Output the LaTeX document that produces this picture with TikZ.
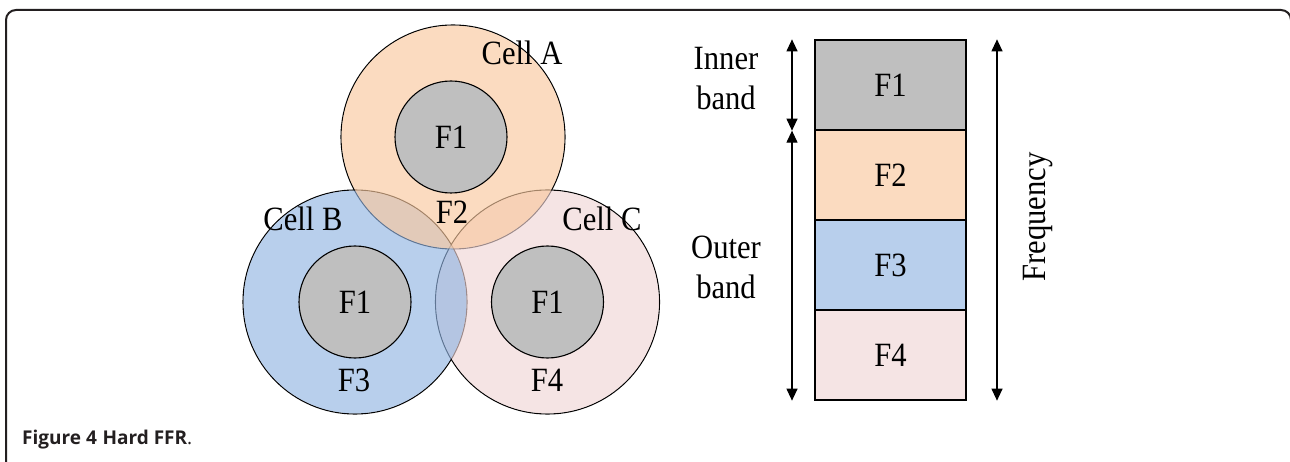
\documentclass[tikz,border=0pt]{standalone}
\usepackage{fontspec}
\setmainfont{Liberation Serif}
\newfontfamily\labfont[FakeStretch=0.9]{Liberation Serif}
\newfontfamily\capfont{Open Sans}
\usetikzlibrary{arrows.meta}

% visible tints (over white) and the matching translucent fills
\definecolor{peachvis}{RGB}{251,219,192}
\definecolor{bluevis}{RGB}{184,207,236}
\definecolor{pinkvis}{RGB}{245,228,228}
\definecolor{peachfill}{RGB}{249,200,158}
\definecolor{bluefill}{RGB}{146,181,226}
\definecolor{pinkfill}{RGB}{240,213,213}
\definecolor{coregray}{RGB}{191,191,191}
\definecolor{framecol}{RGB}{35,31,32}
\definecolor{captext}{RGB}{35,31,32}

\begin{document}
\begin{tikzpicture}[x=1pt,y=-1pt,
  lbl/.style={font=\labfont\fontsize{34}{40}\selectfont, inner sep=0pt, text=black},
  cellring/.style={circle, draw=black, line width=1.1pt, minimum size=224pt, inner sep=0pt},
  cellfill/.style={fill opacity=0.65},
  core/.style={circle, draw=black, line width=1.1pt, fill=coregray, minimum size=112pt, inner sep=0pt, lbl},
  bandbox/.style={draw=black, line width=1.3pt, minimum width=151pt, minimum height=90pt, inner sep=0pt, lbl},
  dimarrow/.style={line width=1.2pt, {Triangle[width=11pt,length=12pt]}-{Triangle[width=11pt,length=12pt]}}]

\useasboundingbox (0,0) rectangle (1290,462);
\clip (0,0) rectangle (1290,462);

% outer frame, open at the bottom
\draw[framecol, line width=2pt, rounded corners=10pt] (6,480) -- (6,10) -- (1291,10) -- (1291,480);

% cell outlines first, so the translucent fills of neighbouring cells tone them down
\node[cellring] (cellC) at (547.5,302) {};
\node[cellring] (cellB) at (355,302) {};
\node[cellring] (cellA) at (453,137) {};

\fill[pinkfill, cellfill]  (cellC.center) circle[radius=111.4pt];
\fill[bluefill, cellfill]  (cellB.center) circle[radius=111.4pt];
\fill[peachfill, cellfill] (cellA.center) circle[radius=111.4pt];

% inner (cell-centre) zones using F1
\node[core] (coreA) at (451,137) {F1};
\node[core] (coreB) at (355,302) {F1};
\node[core] (coreC) at (547.5,302) {F1};

% cell names and outer-zone sub-bands
\node[lbl] (nameA) at (522,53) {Cell A};
\node[lbl] (nameB) at (303,219) {Cell B};
\node[lbl] (nameC) at (602,219) {Cell C};
\node[lbl] (outA) at (452,212) {F2};
\node[lbl] (outB) at (354,380) {F3};
\node[lbl] (outC) at (547,380) {F4};

% frequency bands
\node[bandbox, fill=coregray] (b1) at (890.5,85)  {F1};
\node[bandbox, fill=peachvis] (b2) at (890.5,175) {F2};
\node[bandbox, fill=bluevis]  (b3) at (890.5,265) {F3};
\node[bandbox, fill=pinkvis]  (b4) at (890.5,355) {F4};

% band extent arrows
\coordinate (inTop) at (792,0 |- b1.north);
\coordinate (inMid) at (792,0 |- b1.south);
\coordinate (inBot) at (792,0 |- b4.south);
\coordinate (fqTop) at (997,0 |- b1.north);
\coordinate (fqBot) at (997,0 |- b4.south);
\draw[dimarrow] (inTop) -- (inMid);
\draw[dimarrow] (inMid) -- (inBot);
\draw[dimarrow] (fqTop) -- (fqBot);

\node[lbl, align=center] (innerlbl) at (726,79) {Inner\\band};
\node[lbl, align=center] (outerlbl) at (726,267) {Outer\\band};
\node[lbl, rotate=90] (freqlbl) at (1038,217) {Frequency};

% caption
\node[anchor=base west, inner sep=0pt, text=captext, font=\capfont\fontsize{19}{22}\selectfont] (caption) at (22,444) {\textbf{Figure 4}\hspace{0.3em}\textbf{Hard FFR}.};
\end{tikzpicture}
\end{document}
